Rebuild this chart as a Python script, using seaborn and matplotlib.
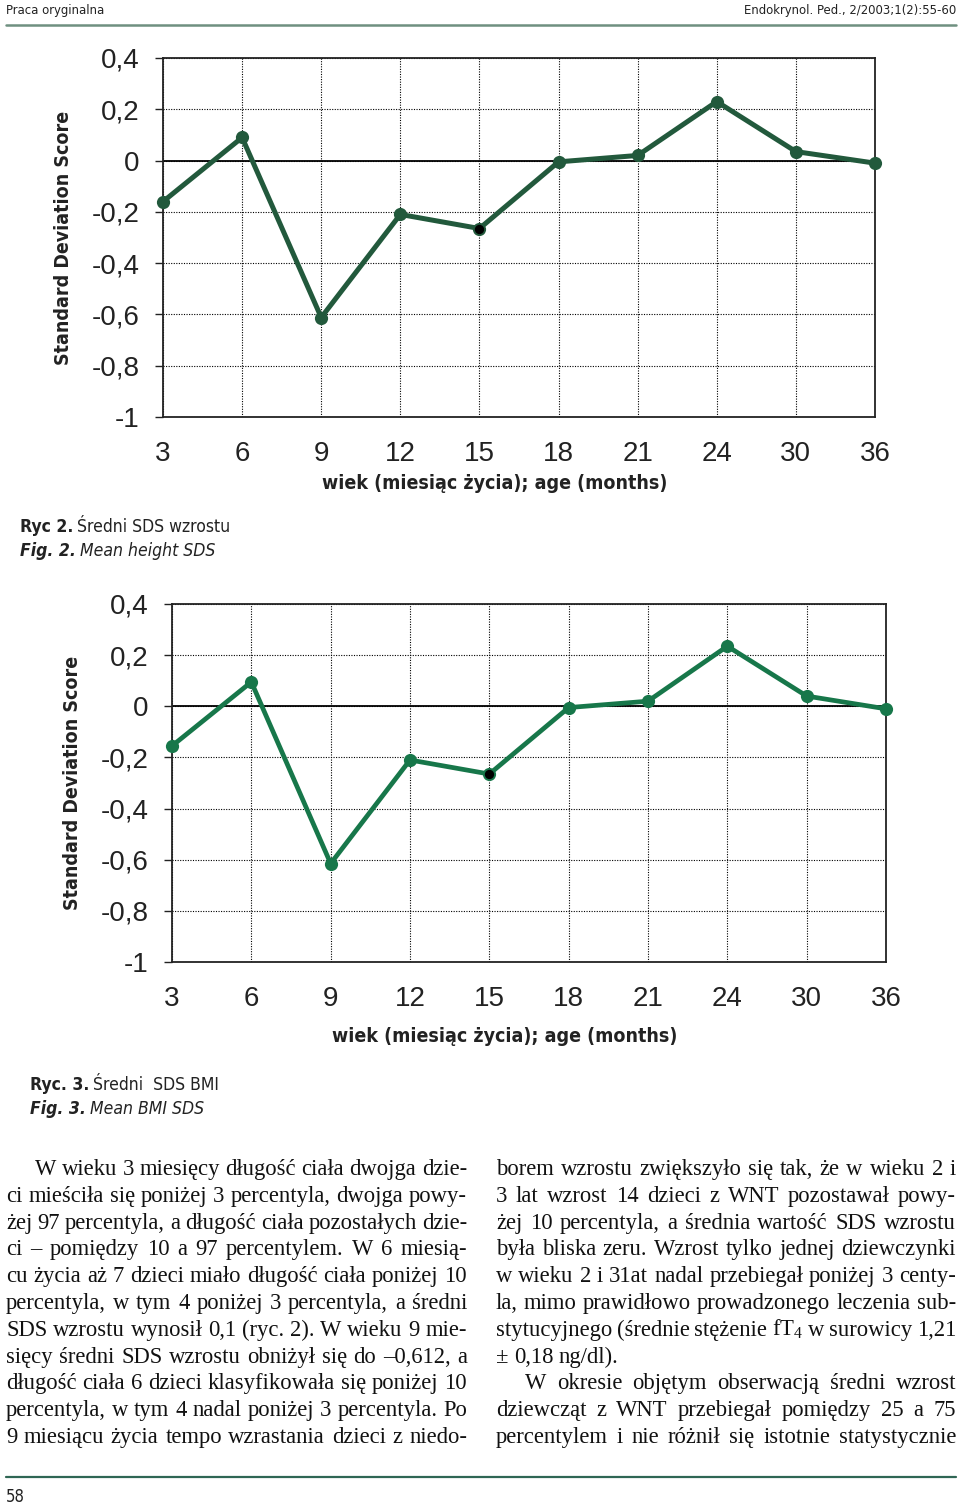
import matplotlib
matplotlib.use("Agg")
import matplotlib.pyplot as plt
from matplotlib import font_manager
import seaborn as sns

# values (mean SDS per age in months)
ages = ["3", "6", "9", "12", "15", "18", "21", "24", "30", "36"]
height_sds = [-0.16, 0.09, -0.612, -0.21, -0.265, -0.005, 0.02, 0.23, 0.035, -0.01]
bmi_sds = [-0.155, 0.095, -0.615, -0.21, -0.265, -0.005, 0.02, 0.235, 0.04, -0.01]
highlight_age = "15"

y_ticks = [-1, -0.8, -0.6, -0.4, -0.2, 0, 0.2, 0.4]
y_tick_labels = ["-1", "-0,8", "-0,6", "-0,4", "-0,2", "0", "0,2", "0,4"]

left_col = [
    "W wieku 3 miesięcy długość ciała dwojga dzie-",
    "ci mieściła się poniżej 3 percentyla, dwojga powy-",
    "żej 97 percentyla, a długość ciała pozostałych dzie-",
    "ci – pomiędzy 10 a 97 percentylem. W 6 miesią-",
    "cu życia aż 7 dzieci miało długość ciała poniżej 10",
    "percentyla, w tym 4 poniżej 3 percentyla, a średni",
    "SDS wzrostu wynosił 0,1 (ryc. 2). W wieku 9 mie-",
    "sięcy średni SDS wzrostu obniżył się do –0,612, a",
    "długość ciała 6 dzieci klasyfikowała się poniżej 10",
    "percentyla, w tym 4 nadal poniżej 3 percentyla. Po",
    "9 miesiącu życia tempo wzrastania dzieci z niedo-",
]
right_col = [
    "borem wzrostu zwiększyło się tak, że w wieku 2 i",
    "3 lat wzrost 14 dzieci z WNT pozostawał powy-",
    "żej 10 percentyla, a średnia wartość SDS wzrostu",
    "była bliska zeru. Wzrost tylko jednej dziewczynki",
    "w wieku 2 i 31at nadal przebiegał poniżej 3 centy-",
    "la, mimo prawidłowo prowadzonego leczenia sub-",
    "stytucyjnego (średnie stężenie fT$_4$ w surowicy 1,21",
    "± 0,18 ng/dl).",
    "W okresie objętym obserwacją średni wzrost",
    "dziewcząt z WNT przebiegał pomiędzy 25 a 75",
    "percentylem i nie różnił się istotnie statystycznie",
]
left_indent = [0]
right_indent = [8]
right_ragged = [7]

sns.set_style("white")
SANS = ["Liberation Sans", "DejaVu Sans"]
SERIF = ["Liberation Serif", "DejaVu Serif"]
plt.rcParams["font.family"] = SANS
plt.rcParams["mathtext.default"] = "regular"

# narrow sans for labels/captions, if a condensed face is installed
have = {(f.name, str(f.stretch)) for f in font_manager.fontManager.ttflist}
if ("DejaVu Sans", "condensed") in have:
    NARROW, STRETCH, NSCALE = ["DejaVu Sans"], "condensed", 1.0
else:
    NARROW, STRETCH, NSCALE = SANS, "normal", 0.95

W, H = 960, 1506
fig = plt.figure(figsize=(W / 100, H / 100), dpi=100)
renderer = fig.canvas.get_renderer()
INK = "#222222"


def fx(x):
    return x / W


def fy(y):
    return 1 - y / H


def draw_panel(rect, values, color, lw, ms, xlab_pos):
    ax = fig.add_axes(rect)
    sns.lineplot(x=ages, y=values, sort=False, color=color, lw=lw, marker="o",
                 markersize=ms, markeredgewidth=0, ax=ax, clip_on=False, zorder=4)
    hi = ages.index(highlight_age)
    sns.scatterplot(x=[ages[hi]], y=[values[hi]], color="black", s=45,
                    linewidth=0, ax=ax, zorder=5, clip_on=False)
    ax.set_xlim(0, len(ages) - 1)
    ax.set_ylim(-1, 0.4)
    ax.set_yticks(y_ticks, y_tick_labels)
    ax.grid(True, color="black", lw=0.8, ls=(0, (1, 1.3)))
    ax.axhline(0, color="black", lw=1.3, zorder=2)
    for s in ax.spines.values():
        s.set_color(INK)
        s.set_linewidth(1.3)
    ax.tick_params(axis="y", length=6, width=1, direction="out", pad=11,
                   labelsize=20, colors=INK, left=True)
    ax.tick_params(axis="x", length=0, pad=17, labelsize=20, colors=INK)
    ax.set_ylabel("Standard Deviation Score", fontsize=14 * NSCALE, weight="bold",
                  family=NARROW, stretch=STRETCH, color=INK)
    ax.yaxis.set_label_coords(-0.126, 0.5)
    ax.set_xlabel("wiek (miesiąc życia); age (months)", fontsize=14 * NSCALE,
                  weight="bold", family=NARROW, stretch=STRETCH, color=INK)
    ax.xaxis.set_label_coords(*xlab_pos)
    return ax


draw_panel([fx(163), fy(417), 712 / W, 359 / H], height_sds, "#22593c", 3.6, 9.5,
           (0.466, -0.160))
draw_panel([fx(172), fy(962), 714 / W, 358 / H], bmi_sds, "#17774a", 3.4, 9.5,
           (0.466, -0.181))


def ntext(x, y, s, size, **kw):
    return fig.text(fx(x), fy(y), s, fontsize=size * NSCALE, family=NARROW,
                    stretch=STRETCH, va="baseline", color=INK, **kw)


def runs(x, y, parts, size):
    for txt, weight, style in parts:
        t = ntext(x, y, txt, size, weight=weight, style=style)
        x += t.get_window_extent(renderer).width + size * 0.3


# header / footer
ntext(6, 14, "Praca oryginalna", 9.4)
ntext(956, 14, "Endokrynol. Ped., 2/2003;1(2):55-60", 9.4, ha="right")
fig.add_artist(plt.Line2D([fx(6), fx(956)], [fy(25), fy(25)], color="#6f9080", lw=1.8))
fig.add_artist(plt.Line2D([fx(6), fx(956)], [fy(1477), fy(1477)], color="#2f6654", lw=1.6))
ntext(6, 1502, "58", 12)

# captions
runs(20, 532, [("Ryc 2.", "bold", "normal"), ("Średni SDS wzrostu", "normal", "normal")], 12.6)
runs(20, 556, [("Fig. 2.", "bold", "italic"), ("Mean height SDS", "normal", "italic")], 12.6)
runs(30, 1090, [("Ryc. 3.", "bold", "normal"), ("Średni  SDS BMI", "normal", "normal")], 12.6)
runs(30, 1114, [("Fig. 3.", "bold", "italic"), ("Mean BMI SDS", "normal", "italic")], 12.6)

BODY = 16.3


def column(lines, x0, x1, indents, ragged):
    for i, line in enumerate(lines):
        y = 1175 + 26.8 * i
        start = x0 + (29 if i in indents else 0)
        words = line.split(" ")
        ts = [fig.text(0, fy(y), w, fontsize=BODY, family=SERIF, va="baseline",
                       color="#111111") for w in words]
        widths = [t.get_window_extent(renderer).width for t in ts]
        if i in ragged or len(ts) == 1:
            gap = BODY * 0.33
        else:
            gap = (x1 - start - sum(widths)) / (len(ts) - 1)
        x = start
        for t, w in zip(ts, widths):
            t.set_x(fx(x))
            x += w + gap


column(left_col, 6, 467, left_indent, [])
column(right_col, 496, 956, right_indent, right_ragged)

fig.savefig("out.png", dpi=100, facecolor="white")
